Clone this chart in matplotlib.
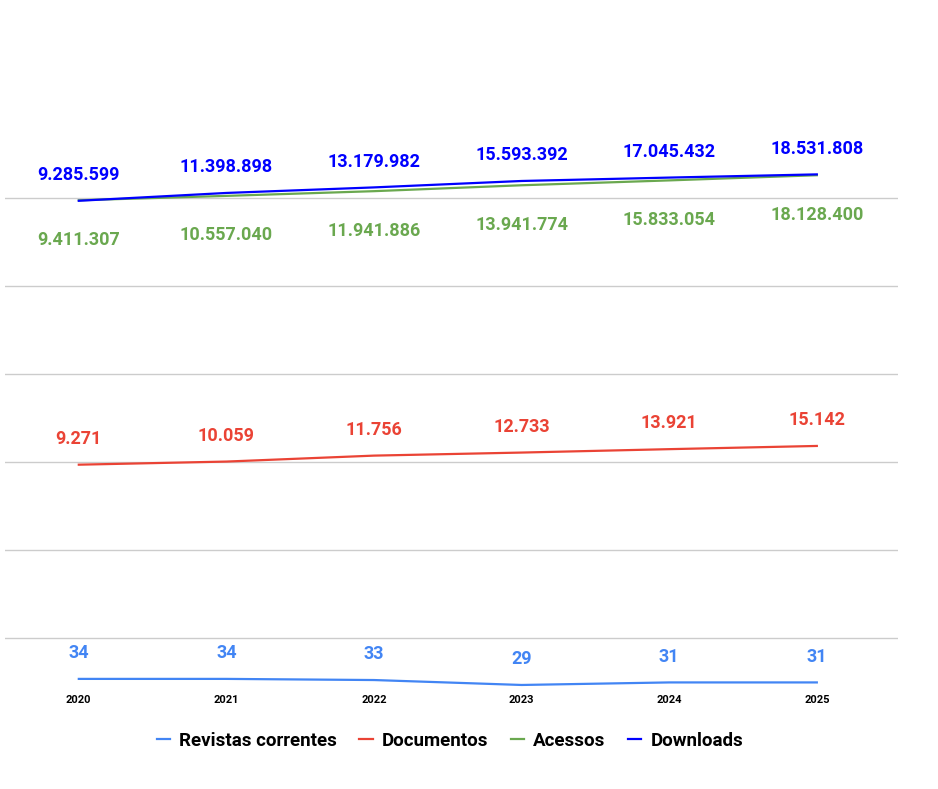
import matplotlib.pyplot as plt
from matplotlib.ticker import FixedLocator, NullFormatter

plt.rcParams['font.family'] = ['Roboto', 'DejaVu Sans']

anos = ["2020", "2021", "2022", "2023", "2024", "2025"]
revistas = [34, 34, 33, 29, 31, 31]
documentos = [9271, 10059, 11756, 12733, 13921, 15142]
acessos = [9411307, 10557040, 11941886, 13941774, 15833054, 18128400]
downloads = [9285599, 11398898, 13179982, 15593392, 17045432, 18531808]

def fmt(v):
    return f"{v:,}".replace(",", ".")

fig = plt.figure(figsize=(9.38, 7.89), dpi=100)
ax = fig.add_axes([5/938, 1 - 687/789, 893/938, (687 - 110)/789])
x = range(len(anos))

series = [
    ("Revistas correntes", revistas, "#4285f4", 12),
    ("Documentos", documentos, "#ea4335", 12),
    ("Acessos", acessos, "#6aa84f", -22),
    ("Downloads", downloads, "#0000ff", 12),
]
for nome, vals, cor, off in series:
    ax.plot(x, vals, color=cor, lw=1.6, label=nome)
    for i, v in zip(x, vals):
        ax.annotate(fmt(v), (i, v), xytext=(0, off), textcoords="offset points",
                    ha="center", va="bottom" if off > 0 else "top",
                    color=cor, fontsize=13, fontweight="bold")

ax.set_yscale("log")
ax.set_ylim(27.5, 1e8)
ax.set_xlim(-0.5, 5.55)
ax.yaxis.set_major_locator(FixedLocator([1e2, 1e3, 1e4, 1e5, 1e6, 1e7]))
ax.yaxis.set_minor_locator(FixedLocator([]))
ax.yaxis.set_major_formatter(NullFormatter())
ax.grid(axis="y", color="#cccccc", lw=1)
ax.tick_params(axis="y", length=0)
ax.tick_params(axis="x", length=0, pad=6)
ax.set_xticks(list(x))
ax.set_xticklabels(anos, fontsize=8, fontweight="bold")
for s in ax.spines.values():
    s.set_visible(False)

fig.legend(loc="center", bbox_to_anchor=(450/938, 1 - 741/789), ncol=4,
           frameon=False, prop={"size": 13.5, "weight": "bold"},
           handlelength=0.7, handletextpad=0.5, columnspacing=1.2)

fig.savefig("out.png", dpi=100)
